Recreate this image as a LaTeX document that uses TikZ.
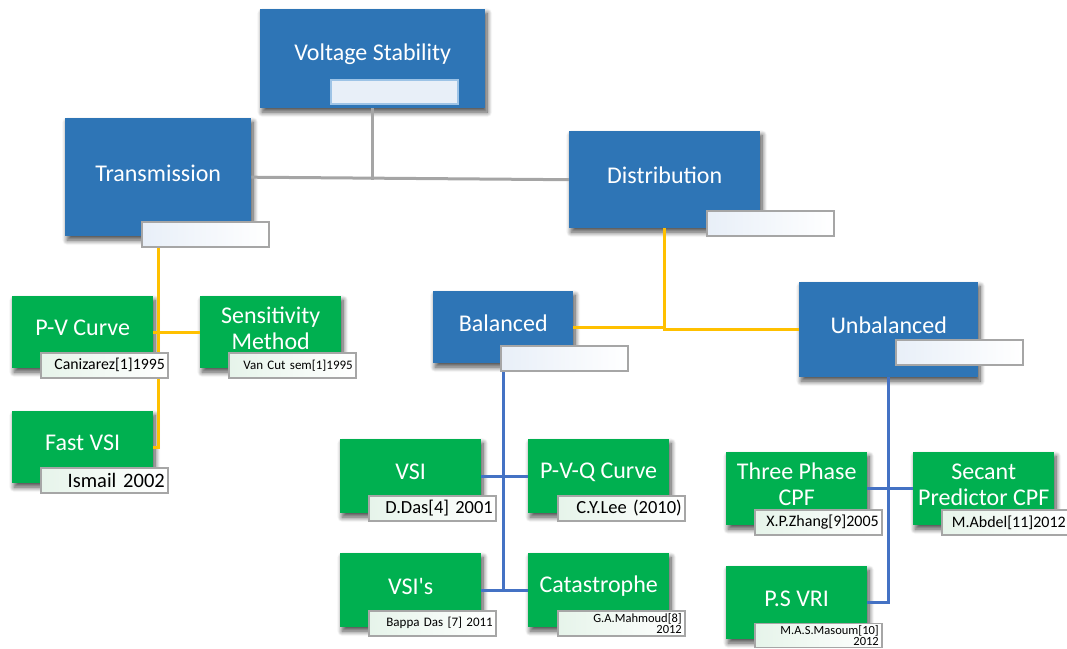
\documentclass[tikz,border=0pt]{standalone}
\usepackage{fontspec}
\setmainfont{Carlito}
\usetikzlibrary{shadows.blur}

\definecolor{boxblue}{HTML}{2E75B6}
\definecolor{boxgreen}{HTML}{00B050}
\definecolor{lnyellow}{HTML}{FFC000}
\definecolor{lnblue}{HTML}{4472C4}
\definecolor{lngray}{HTML}{A5A5A5}
\definecolor{tagedge}{HTML}{A6A6A6}
\definecolor{tagblue}{HTML}{E8EFF8}
\definecolor{taggreen}{HTML}{E6F4EA}
\definecolor{topedge}{HTML}{9DC3E6}

\tikzset{
  box/.style={anchor=north west, inner sep=0pt,
    blur shadow={shadow xshift=2pt, shadow yshift=-4pt, shadow blur radius=5pt,
                 shadow blur steps=10, shadow opacity=70}},
  bluebox/.style={box, fill=boxblue},
  greenbox/.style={box, fill=boxgreen},
  boxtext/.style={text=white, font=\fontsize{24}{26}\selectfont, align=center, inner sep=0pt, yshift=4pt},
  tag/.style={anchor=north west, draw=tagedge, line width=1.6pt,
    minimum width=127pt, minimum height=25pt, text width=121pt,
    align=right, inner sep=2pt, text=black},
  bluetag/.style={tag, left color=tagblue, right color=white},
  greentag/.style={tag, left color=taggreen, right color=white},
  conn/.style={line width=3pt},
  grayln/.style={conn, draw=lngray},
  yellowln/.style={conn, draw=lnyellow},
  blueln/.style={conn, draw=lnblue},
}

\begin{document}
\begin{tikzpicture}[x=1pt, y=-1pt]
\useasboundingbox (0,0) rectangle (1067,648);

% ---------- boxes (placed first so connectors can reference them) ----------
\path
  node[bluebox, minimum width=225pt, minimum height=99pt] (vs)   at (260,9)   {}
  node[bluebox, minimum width=186pt, minimum height=118pt] (tr)  at (65,118)  {}
  node[bluebox, minimum width=191pt, minimum height=97pt] (dist) at (569,131) {}
  node[bluebox, minimum width=140pt, minimum height=72pt] (bal)  at (433,291) {}
  node[bluebox, minimum width=179pt, minimum height=95pt] (unb)  at (799,282) {}
  node[greenbox, minimum width=141pt, minimum height=72pt] (pv)   at (12,296)  {}
  node[greenbox, minimum width=141pt, minimum height=72pt] (sens) at (200,296) {}
  node[greenbox, minimum width=141pt, minimum height=72pt] (fvsi) at (12,411)  {}
  node[greenbox, minimum width=141pt, minimum height=74pt] (vsi)  at (340,439) {}
  node[greenbox, minimum width=141pt, minimum height=74pt] (pvq)  at (528,439) {}
  node[greenbox, minimum width=141pt, minimum height=74pt] (vsis) at (340,553) {}
  node[greenbox, minimum width=141pt, minimum height=74pt] (cat)  at (528,553) {}
  node[greenbox, minimum width=141pt, minimum height=73pt] (tpc)  at (726,452) {}
  node[greenbox, minimum width=141pt, minimum height=73pt] (sec)  at (913,452) {}
  node[greenbox, minimum width=141pt, minimum height=73pt] (psv)  at (726,566) {};

% ---------- connectors ----------
\draw[grayln] (vs.south) -- (vs.south |- dist.west);
\draw[grayln] (tr.east) -- (dist.west);

\draw[yellowln] (tr.south) -- (tr.south |- fvsi.east) -- (fvsi.east);
\draw[yellowln] (pv.east) -- (sens.west);

\draw[yellowln] (dist.south) -- (dist.south |- unb.west) -- (unb.west);
\draw[yellowln] (bal.east) -- (dist.south |- bal.east);

\draw[blueln] (bal.south) -- (bal.south |- vsis.east);
\draw[blueln] (vsi.east) -- (pvq.west);
\draw[blueln] (vsis.east) -- (cat.west);

\draw[blueln] (unb.south) -- (unb.south |- psv.east) -- (psv.east);
\draw[blueln] (tpc.east) -- (sec.west);

% redraw boxes over the connectors
\foreach \b/\c in {vs/boxblue, tr/boxblue, dist/boxblue, bal/boxblue, unb/boxblue,
                   pv/boxgreen, sens/boxgreen, fvsi/boxgreen, vsi/boxgreen, pvq/boxgreen,
                   vsis/boxgreen, cat/boxgreen, tpc/boxgreen, sec/boxgreen, psv/boxgreen}
  \fill[\c] (\b.north west) rectangle (\b.south east);

% ---------- box captions ----------
\node[boxtext] at (vs.center)   {Voltage Stability};
\node[boxtext] at (tr.center)   {Transmission};
\node[boxtext] at (dist.center) {Distribution};
\node[boxtext] at (bal.center)  {Balanced};
\node[boxtext] at (unb.center)  {Unbalanced};
\node[boxtext] at (pv.center)   {P-V Curve};
\node[boxtext] at (sens.center) {Sensitivity\\Method};
\node[boxtext] at (fvsi.center) {Fast VSI};
\node[boxtext] at (vsi.center)  {VSI};
\node[boxtext] at (pvq.center)  {P-V-Q Curve};
\node[boxtext] at (vsis.center) {VSI\textquotesingle s};
\node[boxtext] at (cat.center)  {Catastrophe};
\node[boxtext] at (tpc.center)  {Three Phase\\CPF};
\node[boxtext] at (sec.center)  {Secant\\Predictor CPF};
\node[boxtext] at (psv.center)  {P.S VRI};

% ---------- reference tags ----------
\node[tag, fill=tagblue, draw=topedge, minimum width=127pt, minimum height=24pt] (vs-t) at (330,79) {};
\node[bluetag] (tr-t)   at (141,221) {};
\node[bluetag] (dist-t) at (706,210) {};
\node[bluetag] (bal-t)  at (500,345) {};
\node[bluetag] (unb-t)  at (895,339) {};

\node[greentag, font=\fontsize{15.8}{17}\selectfont] (pv-t)   at (40,352)  {Canizarez[1]1995};
\node[greentag, font=\fontsize{13}{14}\selectfont]   (sens-t) at (228,352) {Van Cut sem[1]1995};
\node[greentag, font=\fontsize{20.5}{21}\selectfont] (fvsi-t) at (40,467)  {Ismail 2002};
\node[greentag, font=\fontsize{18.5}{19}\selectfont] (vsi-t)  at (368,495) {D.Das[4] 2001};
\node[greentag, font=\fontsize{18.5}{19}\selectfont] (pvq-t)  at (557,495) {C.Y.Lee (2010)};
\node[greentag, font=\fontsize{13}{14}\selectfont]   (vsis-t) at (368,610) {Bappa Das [7] 2011};
\node[greentag, font=\fontsize{12.5}{11.5}\selectfont, inner sep=0.5pt] (cat-t) at (557,610) {G.A.Mahmoud[8]\\2012};
\node[greentag, font=\fontsize{16}{17}\selectfont]   (tpc-t)  at (754,509) {X.P.Zhang[9]2005};
\node[greentag, font=\fontsize{16}{17}\selectfont]   (sec-t)  at (941,509) {M.Abdel[11]2012};
\node[greentag, font=\fontsize{12.5}{11.5}\selectfont, inner sep=0.5pt, minimum height=24pt] (psv-t) at (754,622.5) {M.A.S.Masoum[10]\\2012};
\end{tikzpicture}
\end{document}
